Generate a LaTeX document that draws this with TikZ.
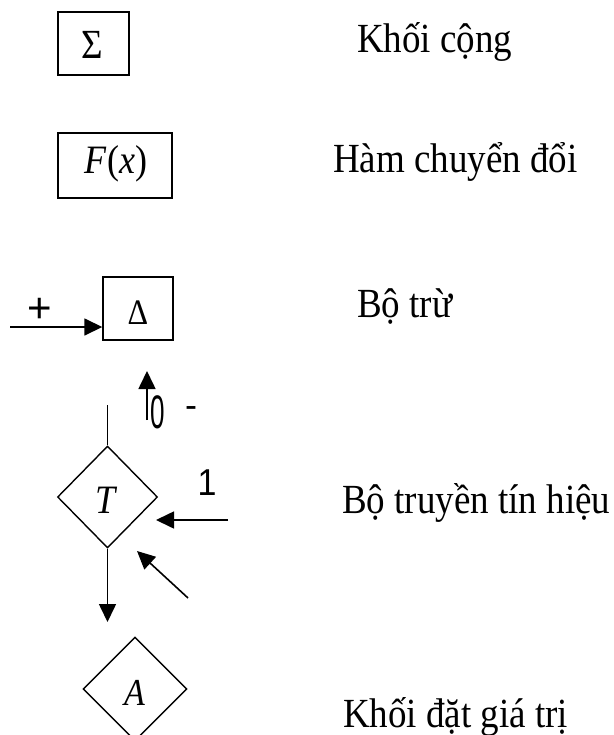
\documentclass[tikz,border=0pt]{standalone}
\usepackage{fontspec}
\setmainfont{Liberation Serif}
\newfontfamily\lsans{Liberation Sans}
\usetikzlibrary{shapes.geometric,arrows.meta}
\tikzset{
  blk/.style={draw,line width=1.4pt,rectangle,inner sep=0pt},
  dmd/.style={draw,line width=1.4pt,diamond,inner sep=0pt},
  lbl/.style={anchor=base west,inner sep=0pt,yscale=1.12,font=\fontsize{37}{44}\selectfont},
  sym/.style={anchor=base,inner sep=0pt,yscale=1.12},
  conn/.style={line width=1.6pt},
  arr/.style={line width=1.6pt,-{Triangle[length=18pt,width=17pt]}}
}
\begin{document}
\begin{tikzpicture}[x=1pt,y=-1pt]
\useasboundingbox (0,0) rectangle (613,735);
\clip (0,0) rectangle (613,735);
% blocks
\node[blk,minimum width=71pt,minimum height=63pt] (sig) at (93.5,43.5) {};
\node[blk,minimum width=114pt,minimum height=65pt] (fx) at (115,165.5) {};
\node[blk,minimum width=70pt,minimum height=63pt] (del) at (138,308.5) {};
\node[dmd,minimum width=100pt,minimum height=102pt] (T) at (107.5,497) {};
\node[dmd,minimum width=104pt,minimum height=104pt] (A) at (135,689) {};
% symbols
\node[sym,font=\fontsize{37}{40}\selectfont] (sigt) at (92.5,59) {Σ};
\node[sym,font=\fontsize{36}{38}\selectfont] (fxt) at (116,174) {\textit{F}(\textit{x})};
\node[sym,font=\fontsize{32}{36}\selectfont] (delt) at (138,324) {Δ};
\node[sym,font=\fontsize{36}{38}\selectfont] (Tt) at (107,513) {\textit{T}};
\node[sym,font=\fontsize{34}{36}\selectfont] (At) at (135,705) {\textit{A}};
% small labels
\node[inner sep=0pt,font=\lsans\fontsize{42}{46}\selectfont] (plus) at (40,310) {+};
\node[inner sep=0pt,font=\lsans\fontsize{42}{46}\selectfont,xscale=0.62,yscale=1.12] (zero) at (158,412) {0};
\node[inner sep=0pt,font=\lsans\fontsize{36}{40}\selectfont] (minus) at (191,412) {-};
\node[inner sep=0pt,font=\lsans\fontsize{34}{36}\selectfont,yscale=1.1] (one) at (207,483) {1};
% right-hand labels
\node[lbl] (l1) at (357,53) {Khối cộng};
\node[lbl] (l2) at (333,173) {Hàm chuyển đổi};
\node[lbl] (l3) at (357,317) {Bộ trừ};
\node[lbl] (l4) at (342,513) {Bộ truyền tín hiệu};
\node[lbl] (l5) at (343,727) {Khối đặt giá trị};
% connectors
\coordinate (pin) at (10,327);
\draw[arr] (pin) -- (pin -| del.west);
\coordinate (u1) at (147,420);
\coordinate (u2) at (147,371);
\draw[arr] (u1) -- (u2);
\coordinate (tin) at (107.5,405);
\draw[conn] (tin) -- (T.north);
\coordinate (h1) at (228,520);
\coordinate (h2) at (156,520);
\draw[arr] (h1) -- (h2);
\coordinate (d1) at (188,598);
\coordinate (d2) at (137,551);
\draw[arr] (d1) -- (d2);
\coordinate (tout) at (107.5,622);
\draw[arr] (T.south) -- (tout);
\end{tikzpicture}
\end{document}
